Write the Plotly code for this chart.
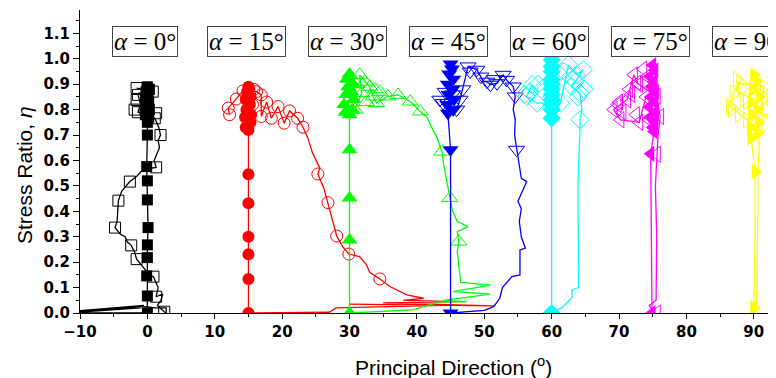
import plotly.graph_objects as go

# ---------------- data ----------------
alphas = [0, 15, 30, 45, 60, 75, 90]
alpha_labels = ["<i>α</i> = 0°", "<i>α</i> = 15°", "<i>α</i> = 30°", "<i>α</i> = 45°",
                "<i>α</i> = 60°", "<i>α</i> = 75°", "<i>α</i> = 90°"]
colors = ["#000000", "#ff0000", "#00ff00", "#0000ff", "#00ffff", "#ff00ff", "#ffff00"]
fill_symbols = ["square", "circle", "triangle-up", "triangle-down", "diamond",
                "triangle-left", "triangle-right"]
open_symbols = [s + "-open" for s in fill_symbols]
marker_sizes = [11, 12, 14, 14, 14, 14, 14]

x_ticks = [-10, 0, 10, 20, 30, 40, 50, 60, 70, 80, 90]
y_ticks = [0.0, 0.1, 0.2, 0.3, 0.4, 0.5, 0.6, 0.7, 0.8, 0.9, 1.0, 1.1]

# ---- alpha = 0 ----
a0_fill_x = [0.0, 0.0, -0.1, 0.0, 0.0, 0.1, 0.0, 0.0, -0.1, 0.0, 0.0, 0.2, -0.3, 0.3, -0.2, 0.2, -0.3, 0.1, -0.2, 0.3, 0.0]
a0_fill_y = [0.0, 0.067, 0.146, 0.218, 0.268, 0.336, 0.445, 0.52, 0.576, 0.70, 0.75, 0.77, 0.78, 0.80, 0.81, 0.83, 0.84, 0.86, 0.87, 0.88, 0.89]
a0_path_x = [0.0, -12.0, -1.0, -12.0, -0.5, -7.0, 0.0, 1.0, 2.8, 2.8, 2.5, 1.5, 2.0, 2.3, 1.3, 1.6, 0.9, 0.2, -0.3,
             -1.6, -1.9, -2.4, -3.0, -3.3, -4.0, -4.8, -4.5, -4.4, -4.3, -3.8, -2.6, -1.5, -0.6, 1.3, 1.0, 1.8,
             1.6, 1.95, 1.7, 1.1, 0.4, -1.4, -1.0, -1.4, -1.3, 0.8, 0.2, -1.6]
a0_path_y = [0.0, 0.0, 0.02, 0.005, 0.03, 0.015, 0.025, 0.02, 0.02, 0.0, 0.005, 0.03, 0.05, 0.075, 0.064, 0.1, 0.143,
             0.15, 0.17, 0.212, 0.24, 0.266, 0.28, 0.3, 0.31, 0.336, 0.36, 0.41, 0.442, 0.48, 0.517, 0.54, 0.565,
             0.573, 0.6, 0.65, 0.68, 0.70, 0.73, 0.766, 0.775, 0.79, 0.82, 0.858, 0.865, 0.871, 0.878, 0.885]
a0_mark_x = [2.5, 1.3, 0.9, -1.6, -2.4, -4.8, -4.3, -2.6, 1.3, 1.95, 1.1, -1.4, -1.4, 0.8, -1.6, -1.6, 1.3, -1.9]
a0_mark_y = [0.005, 0.064, 0.143, 0.212, 0.266, 0.336, 0.442, 0.517, 0.573, 0.70, 0.766, 0.79, 0.858, 0.871, 0.885, 0.838, 0.786, 0.80]

# ---- alpha = 15 ----
a15_fill_x = [15.0, 15.0, 15.0, 15.0, 15.0, 15.0, 15.0, 14.6, 15.3, 14.5, 15.4, 14.7, 15.2, 14.6, 15.3, 14.8, 15.1, 15.0]
a15_fill_y = [0.0, 0.134, 0.231, 0.30, 0.432, 0.546, 0.72, 0.73, 0.75, 0.77, 0.78, 0.80, 0.82, 0.84, 0.85, 0.87, 0.88, 0.89]
a15_path_x = [15.0, 27.0, 28.0, 44.0, 30.0, 51.5, 35.0, 46.0, 38.0, 41.0, 38.5, 36.0, 34.5, 33.0, 32.5, 31.5, 29.9,
              29.0, 28.1, 27.5, 26.8, 26.2, 25.3, 25.6, 24.5, 23.8, 23.1, 22.3, 21.1, 20.3, 19.4, 18.4, 17.7, 16.9,
              16.9, 16.2, 14.2, 13.2, 12.0, 12.2]
a15_path_y = [0.0, 0.003, 0.02, 0.03, 0.035, 0.028, 0.04, 0.045, 0.05, 0.058, 0.071, 0.104, 0.134, 0.16, 0.19, 0.222,
              0.232, 0.26, 0.303, 0.36, 0.434, 0.49, 0.547, 0.57, 0.63, 0.69, 0.731, 0.766, 0.795, 0.747, 0.812,
              0.766, 0.83, 0.773, 0.858, 0.871, 0.874, 0.842, 0.806, 0.78]
a15_mark_x = [12.0, 12.2, 13.2, 14.2, 16.2, 16.9, 16.9, 17.7, 18.4, 19.4, 20.3, 21.1, 22.3, 23.1, 25.3, 26.8, 28.1, 29.9, 34.5, 15.8, 15.6]
a15_mark_y = [0.806, 0.78, 0.842, 0.874, 0.871, 0.858, 0.773, 0.83, 0.766, 0.812, 0.747, 0.795, 0.766, 0.731, 0.547, 0.434, 0.303, 0.232, 0.134, 0.88, 0.82]

# ---- alpha = 30 ----
a30_fill_x = [30.0, 30.0, 30.0, 30.0, 30.0, 29.4, 30.4, 29.2, 30.6, 29.5, 30.3, 29.8, 30.5, 29.6, 30.0]
a30_fill_y = [0.0, 0.287, 0.452, 0.642, 0.78, 0.79, 0.80, 0.82, 0.84, 0.86, 0.87, 0.89, 0.90, 0.92, 0.94]
a30_path_x = [30.0, 39.4, 43.4, 47.4, 44.0, 50.9, 45.4, 50.9, 46.5, 46.3, 46.0, 46.2, 46.0, 47.6, 46.0, 45.3, 44.9,
              44.4, 44.0, 43.7, 43.0, 42.0, 41.5, 40.5, 39.0, 37.2, 35.7, 34.0, 33.5, 33.0, 32.3, 31.5, 31.8, 30.8]
a30_path_y = [0.0, 0.012, 0.044, 0.044, 0.05, 0.074, 0.084, 0.11, 0.12, 0.18, 0.24, 0.281, 0.32, 0.34, 0.36, 0.40,
              0.452, 0.52, 0.58, 0.635, 0.69, 0.74, 0.77, 0.793, 0.832, 0.858, 0.852, 0.826, 0.852, 0.89, 0.91,
              0.937, 0.865, 0.80]
a30_mark_x = [31.5, 32.3, 33.0, 31.8, 33.5, 34.0, 35.7, 37.2, 39.0, 40.5, 43.7, 44.9, 46.2, 30.8, 32.5, 34.5, 31.0, 33.8]
a30_mark_y = [0.937, 0.91, 0.89, 0.865, 0.852, 0.826, 0.852, 0.858, 0.832, 0.793, 0.635, 0.452, 0.281, 0.80, 0.83, 0.87, 0.90, 0.88]

# ---- alpha = 45 ----
a45_fill_x = [45.0, 45.0, 44.6, 45.4, 44.5, 45.5, 44.7, 45.3, 44.6, 45.4, 44.8, 45.2, 45.0]
a45_fill_y = [0.0, 0.642, 0.786, 0.80, 0.82, 0.84, 0.86, 0.88, 0.90, 0.92, 0.94, 0.96, 0.98]
a45_path_x = [45.0, 50.0, 51.4, 52.3, 52.7, 54.1, 55.3, 55.3, 56.1, 55.5, 55.2, 55.5, 55.0, 55.5, 56.3, 55.5, 55.2,
              54.8, 54.5, 54.6, 54.3, 54.6, 54.3, 53.3, 52.8, 51.9, 50.9, 50.4, 49.9, 48.9, 47.6, 46.4, 45.9, 44.9,
              43.9, 43.4]
a45_path_y = [0.0, 0.01, 0.025, 0.058, 0.1, 0.143, 0.15, 0.248, 0.255, 0.3, 0.36, 0.41, 0.44, 0.47, 0.517, 0.53,
              0.58, 0.642, 0.7, 0.76, 0.8, 0.852, 0.891, 0.917, 0.937, 0.904, 0.898, 0.91, 0.91, 0.957, 0.97, 0.839,
              0.8, 0.8, 0.826, 0.839]
a45_mark_x = [54.8, 54.6, 54.3, 53.3, 52.8, 51.9, 50.9, 50.4, 48.9, 47.6, 47.9, 46.4, 45.9, 43.9, 43.4, 44.2, 46.8, 45.3, 49.5, 51.5]
a45_mark_y = [0.642, 0.852, 0.891, 0.917, 0.937, 0.904, 0.898, 0.91, 0.957, 0.97, 0.95, 0.839, 0.80, 0.826, 0.839, 0.87, 0.88, 0.86, 0.93, 0.92]

# ---- alpha = 60 ----
a60_fill_x = [60.0, 60.0, 60.0, 60.0, 60.0, 60.0, 60.0, 60.0, 60.0, 60.0, 60.0, 60.0]
a60_fill_y = [0.0, 0.766, 0.80, 0.82, 0.84, 0.86, 0.88, 0.90, 0.92, 0.95, 0.97, 0.996]
a60_path_x = [60.0, 61.5, 63.0, 63.0, 64.0, 64.0, 63.9, 64.2, 64.2, 64.5, 64.2, 63.0, 64.7, 63.7, 62.5, 61.3, 57.8,
              56.3, 57.1, 58.0]
a60_path_y = [0.0, 0.02, 0.06, 0.09, 0.10, 0.30, 0.50, 0.72, 0.76, 0.80, 0.865, 0.891, 0.957, 0.937, 0.976, 0.826,
              0.826, 0.852, 0.898, 0.87]
a60_mark_x = [64.2, 64.2, 63.0, 64.7, 63.7, 62.5, 61.3, 57.8, 56.3, 57.1, 63.5, 64.8, 56.8, 61.8, 58.5, 62.8, 63.9, 56.0, 58.0]
a60_mark_y = [0.76, 0.865, 0.891, 0.957, 0.937, 0.976, 0.826, 0.826, 0.852, 0.898, 0.91, 0.88, 0.87, 0.95, 0.88, 0.93, 0.85, 0.86, 0.90]

# ---- alpha = 75 ----
a75_fill_x = [74.9, 74.8, 74.7, 75.2, 75.0, 75.3, 74.6, 75.4, 74.5, 75.3, 74.7, 75.4, 74.8, 75.2, 74.6, 75.3, 75.0]
a75_fill_y = [0.0, 0.30, 0.626, 0.714, 0.73, 0.75, 0.77, 0.79, 0.81, 0.83, 0.85, 0.87, 0.89, 0.91, 0.93, 0.955, 0.975]
a75_fill_marked = [True, False, True, True, True, True, True, True, True, True, True, True, True, True, True, True, True]
a75_path_x = [75.2, 74.5, 75.5, 75.6, 75.4, 75.6, 75.8, 76.1, 75.6, 72.7, 72.2, 71.2, 69.2, 70.2, 73.0, 74.0]
a75_path_y = [0.0, 0.03, 0.05, 0.30, 0.50, 0.625, 0.70, 0.773, 0.852, 0.904, 0.937, 0.839, 0.80, 0.76, 0.75, 0.85]
a75_mark_x = [75.6, 76.1, 75.6, 72.7, 72.2, 71.2, 69.2, 70.2, 73.0, 74.0, 73.6, 69.8, 72.5, 75.6, 71.5, 74.2, 70.5, 71.8, 73.0, 74.5, 70.0]
a75_mark_y = [0.625, 0.773, 0.852, 0.904, 0.937, 0.839, 0.80, 0.76, 0.75, 0.85, 0.96, 0.82, 0.78, 0.0, 0.88, 0.93, 0.79, 0.86, 0.90, 0.76, 0.83]

# ---- alpha = 90 ----
a90_fill_x = [90.0, 90.2, 90.2, 89.6, 90.6, 89.5, 90.7, 89.7, 90.5, 89.6, 90.8, 89.8, 90.4, 90.0]
a90_fill_y = [0.02, 0.30, 0.556, 0.69, 0.71, 0.73, 0.75, 0.78, 0.80, 0.83, 0.85, 0.88, 0.91, 0.937]
a90_fill_marked = [True, False, True, True, True, True, True, True, True, True, True, True, True, True]
a90_path_x = [90.3, 90.5, 90.6, 90.6, 90.8, 90.7, 90.9, 91.5, 88.0, 87.0, 86.5, 89.0, 92.5]
a90_path_y = [0.0, 0.10, 0.40, 0.556, 0.65, 0.72, 0.773, 0.891, 0.904, 0.865, 0.812, 0.76, 0.85]
a90_mark_x = [90.7, 90.9, 91.5, 88.0, 87.0, 86.5, 89.0, 92.5, 88.5, 87.5, 91.8, 86.8, 88.2, 89.0, 91.0, 87.8]
a90_mark_y = [0.72, 0.773, 0.891, 0.904, 0.865, 0.812, 0.76, 0.85, 0.84, 0.92, 0.80, 0.80, 0.88, 0.83, 0.86, 0.78]

fill_x = [a0_fill_x, a15_fill_x, a30_fill_x, a45_fill_x, a60_fill_x, a75_fill_x, a90_fill_x]
fill_y = [a0_fill_y, a15_fill_y, a30_fill_y, a45_fill_y, a60_fill_y, a75_fill_y, a90_fill_y]
fill_marked = [None, None, None, None, None, a75_fill_marked, a90_fill_marked]
path_x = [a0_path_x, a15_path_x, a30_path_x, a45_path_x, a60_path_x, a75_path_x, a90_path_x]
path_y = [a0_path_y, a15_path_y, a30_path_y, a45_path_y, a60_path_y, a75_path_y, a90_path_y]
mark_x = [a0_mark_x, a15_mark_x, a30_mark_x, a45_mark_x, a60_mark_x, a75_mark_x, a90_mark_x]
mark_y = [a0_mark_y, a15_mark_y, a30_mark_y, a45_mark_y, a60_mark_y, a75_mark_y, a90_mark_y]

# ---------------- figure ----------------
fig = go.Figure()

for i, a in enumerate(alphas):
    c = colors[i]
    fig.add_trace(go.Scatter(x=path_x[i], y=path_y[i], mode="lines",
                             line=dict(color=c, width=1.3), hoverinfo="skip"))
    fig.add_trace(go.Scatter(x=mark_x[i], y=mark_y[i], mode="markers",
                             marker=dict(symbol=open_symbols[i], size=marker_sizes[i], color=c,
                                         line=dict(color=c, width=1))))
for i, a in enumerate(alphas):
    c = colors[i]
    # line through every point of the filled series
    fig.add_trace(go.Scatter(x=fill_x[i], y=fill_y[i], mode="lines",
                             line=dict(color=c, width=1.3), hoverinfo="skip"))
    if fill_marked[i] is None:
        mx, my = fill_x[i], fill_y[i]
    else:
        mx = [v for v, m in zip(fill_x[i], fill_marked[i]) if m]
        my = [v for v, m in zip(fill_y[i], fill_marked[i]) if m]
    fig.add_trace(go.Scatter(x=mx, y=my, mode="markers",
                             marker=dict(symbol=fill_symbols[i], size=marker_sizes[i], color=c,
                                         line=dict(color=c, width=0))))

for i, a in enumerate(alphas):
    fig.add_annotation(x=a - 0.3, y=1.07, xref="x", yref="y", text=alpha_labels[i],
                       showarrow=False, font=dict(family="Liberation Serif", size=25, color="black"),
                       bordercolor="#444444", borderwidth=1, borderpad=1, bgcolor="white")

fig.add_annotation(x=-0.0805, y=0.455, xref="paper", yref="paper", xanchor="center", yanchor="middle",
                   text="Stress Ratio, <i>η</i>", textangle=-90, showarrow=False,
                   font=dict(family="Liberation Sans", size=21, color="black"))
fig.add_annotation(x=0.537, y=-0.175, xref="paper", yref="paper", xanchor="center", yanchor="middle",
                   text="Principal Direction (<sup>o</sup>)", showarrow=False,
                   font=dict(family="Liberation Sans", size=21, color="black"))

axis_common = dict(showline=True, linecolor="black", linewidth=1, ticks="outside",
                   tickcolor="black", showgrid=False, zeroline=False, mirror=False,
                   tickfont=dict(family="DejaVu Sans", size=15, color="black", weight="bold"))

fig.update_xaxes(range=[-10, 93.3], tickvals=x_ticks, ticklen=5,
                 minor=dict(ticks="outside", dtick=5, tick0=0, ticklen=3, tickcolor="black"),
                 **axis_common)
fig.update_yaxes(range=[0, 1.192], tickvals=y_ticks, ticktext=[f"{v:.1f}" for v in y_ticks], ticklen=6,
                 minor=dict(ticks="outside", dtick=0.05, tick0=0, ticklen=3, tickcolor="black"),
                 **axis_common)

# the page adds an 8 px body margin, so the figure is sized to fit the window
fig.update_layout(width=768, height=370, showlegend=False,
                  margin=dict(l=72, r=0, t=2, b=65),
                  plot_bgcolor="white", paper_bgcolor="white")

fig.write_html("out.html")
